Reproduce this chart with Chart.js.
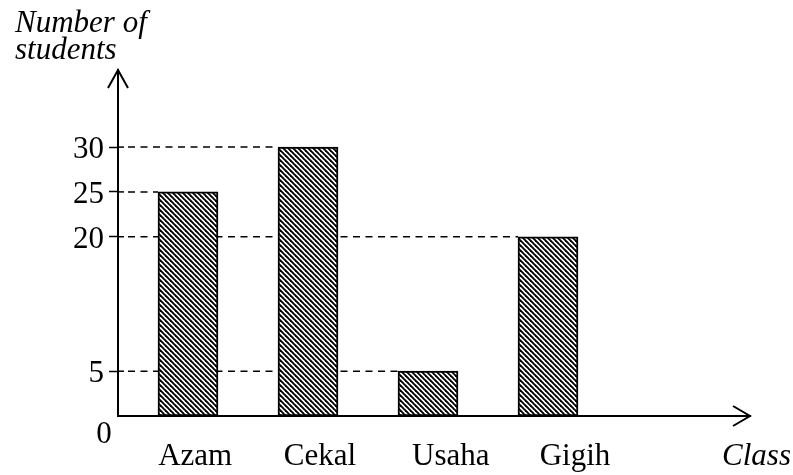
<!DOCTYPE html>
<html>
<head>
<meta charset="utf-8">
<script src="https://cdn.jsdelivr.net/npm/chart.js@4.4.1/dist/chart.umd.min.js"></script>
<style>
  html, body { margin: 0; padding: 0; background: #ffffff; }
  #wrap { width: 793px; height: 475px; position: relative; }
  canvas { display: block; }
</style>
</head>
<body>
<div id="wrap"><canvas id="chart" width="793" height="475"></canvas></div>
<script>
// ---- data ----
const categories = ['Azam', 'Cekal', 'Usaha', 'Gigih'];
const students = [25, 30, 5, 20];
const yTickValues = [5, 20, 25, 30];
const yAxisTitle = ['Number of', 'students'];
const xAxisTitle = 'Class';
const originLabel = '0';

// ---- layout / styling (not data) ----
const FONT = "'Liberation Serif', 'Times New Roman', serif";
const FS = 31;
// small horizontal shift of each category label relative to its bar (in category units)
const labelShift = [0.06, 0.1, 0.19, 0.225];
const originLabelPos = -0.7;
const xTitlePos = 4.7375;

function hatchPattern() {
  const s = 5;
  const c = document.createElement('canvas');
  c.width = s; c.height = s;
  const g = c.getContext('2d');
  g.fillStyle = '#ffffff';
  g.fillRect(0, 0, s, s);
  g.strokeStyle = '#000000';
  g.lineWidth = 1.9;
  for (let k = -1; k <= 1; k++) {
    g.beginPath();
    g.moveTo(-1, -1 + k * s);
    g.lineTo(s + 1, s + 1 + k * s);
    g.stroke();
  }
  return g.createPattern(c, 'repeat');
}

// each category sits at its index on a linear axis
const barPoints = categories.map((c, i) => ({ x: i, y: students[i] }));
const xTickList = [{ value: originLabelPos, label: [originLabel, ''] }]
  .concat(categories.map((c, i) => ({ value: i + labelShift[i], label: ['', c] })))
  .concat([{ value: xTitlePos, label: ['', xAxisTitle], italic: true }]);

const refLines = {
  id: 'refLines',
  beforeDatasetsDraw(chart) {
    const { ctx, chartArea, scales } = chart;
    const meta = chart.getDatasetMeta(0);
    ctx.save();
    ctx.strokeStyle = '#000';
    ctx.lineWidth = 1.5;
    yTickValues.forEach(v => {
      const y = scales.y.getPixelForValue(v);
      const idx = students.indexOf(v);
      const bar = meta.data[idx];
      const xEnd = bar.x - bar.width / 2;
      ctx.setLineDash([]);
      ctx.beginPath();
      ctx.moveTo(chartArea.left, y);
      ctx.lineTo(chartArea.left + 6, y);
      ctx.stroke();
      ctx.setLineDash([7, 5.5]);
      ctx.beginPath();
      ctx.moveTo(chartArea.left + 10, y);
      ctx.lineTo(xEnd, y);
      ctx.stroke();
    });
    ctx.restore();
  },
  afterDraw(chart) {
    const { ctx, chartArea } = chart;
    ctx.save();
    ctx.strokeStyle = '#000';
    ctx.lineWidth = 2;
    ctx.setLineDash([]);
    // y arrow
    ctx.beginPath();
    ctx.moveTo(chartArea.left - 10, chartArea.top + 18);
    ctx.lineTo(chartArea.left, chartArea.top);
    ctx.lineTo(chartArea.left + 10, chartArea.top + 18);
    ctx.stroke();
    // x arrow
    ctx.beginPath();
    ctx.moveTo(chartArea.right - 17, chartArea.bottom - 10);
    ctx.lineTo(chartArea.right, chartArea.bottom);
    ctx.lineTo(chartArea.right - 17, chartArea.bottom + 10);
    ctx.stroke();
    ctx.restore();
  }
};

new Chart(document.getElementById('chart'), {
  type: 'bar',
  data: {
    datasets: [{
      data: barPoints,
      backgroundColor: hatchPattern(),
      borderColor: '#000000',
      borderWidth: 2,
      borderSkipped: false,
      barThickness: 60
    }]
  },
  options: {
    responsive: false,
    animation: false,
    devicePixelRatio: 1,
    layout: { autoPadding: false, padding: { left: 15, right: 43, top: 0, bottom: 0 } },
    plugins: {
      legend: { display: false },
      tooltip: { enabled: false },
      title: {
        display: true,
        text: yAxisTitle,
        align: 'start',
        color: '#000',
        font: { family: FONT, size: FS, style: 'italic', weight: 'normal', lineHeight: 27 / FS },
        padding: { top: 10, bottom: 6 }
      }
    },
    scales: {
      x: {
        type: 'linear',
        position: 'bottom',
        offset: false,
        bounds: 'data',
        min: -0.5833,
        max: 4.6833,
        afterBuildTicks(scale) {
          scale.ticks = xTickList.map(t => ({ value: t.value }));
        },
        afterFit(scale) {
          scale.height = 59;
          scale.paddingLeft = 0;
          scale.paddingRight = 0;
        },
        grid: { display: false, drawTicks: false, tickLength: 0, offset: false },
        border: { display: true, color: '#000', width: 2 },
        ticks: {
          autoSkip: false,
          maxRotation: 0,
          minRotation: 0,
          padding: 8,
          color: '#000',
          callback: (value, index) => xTickList[index] ? xTickList[index].label : '',
          font: (ctx) => ({
            family: FONT,
            size: FS,
            style: (xTickList[ctx.index] && xTickList[ctx.index].italic) ? 'italic' : 'normal',
            lineHeight: 22 / FS
          })
        }
      },
      y: {
        type: 'linear',
        position: 'left',
        min: 0,
        max: 38.6,
        afterBuildTicks(scale) {
          scale.ticks = yTickValues.map(v => ({ value: v }));
        },
        afterFit(scale) {
          scale.width = 103;
          scale.paddingTop = 0;
          scale.paddingBottom = 0;
        },
        grid: {
          display: true,
          drawOnChartArea: false,
          drawTicks: true,
          tickLength: 9,
          tickColor: '#000',
          tickWidth: 1.5
        },
        border: { display: true, color: '#000', width: 2 },
        ticks: {
          autoSkip: false,
          padding: 5,
          labelOffset: 3,
          color: '#000',
          font: { family: FONT, size: FS }
        }
      }
    }
  },
  plugins: [refLines]
});
</script>
</body>
</html>
